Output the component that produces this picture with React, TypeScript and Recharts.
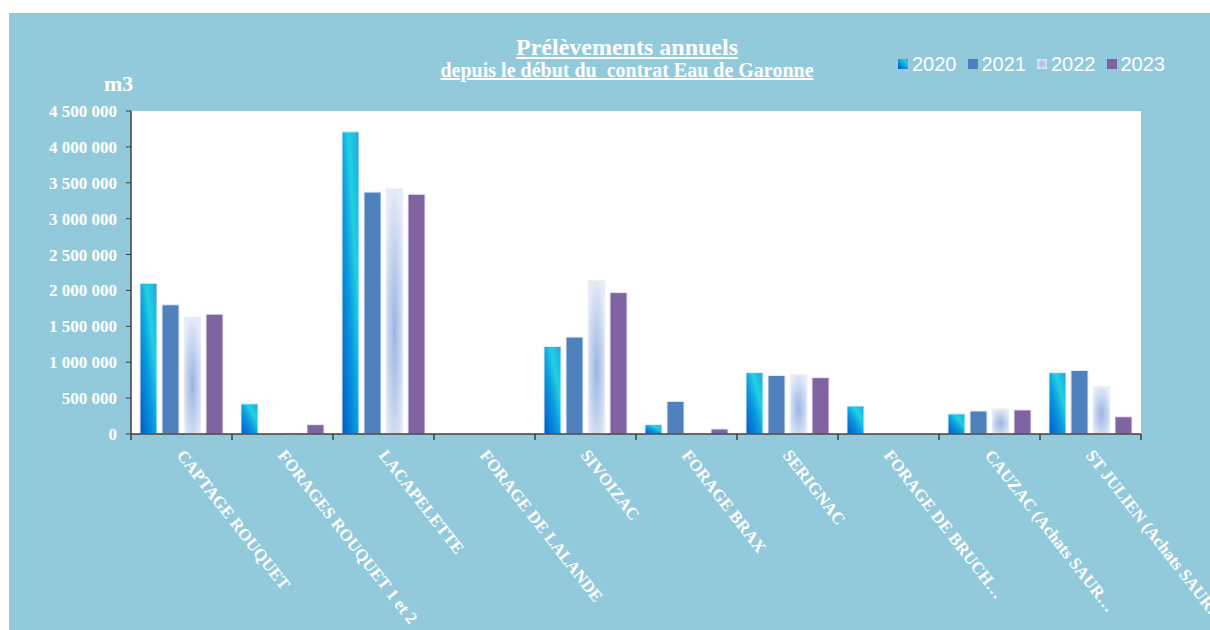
import { BarChart, Bar, XAxis, YAxis, CartesianGrid, Legend } from 'recharts'

const categories = [
  'CAPTAGE ROUQUET',
  'FORAGES ROUQUET 1 et 2',
  'LACAPELETTE',
  'FORAGE DE LALANDE',
  'SIVOIZAC',
  'FORAGE BRAX',
  'SERIGNAC',
  'FORAGE DE BRUCH…',
  'CAUZAC (Achats SAUR…',
  'ST JULIEN (Achats SAUR…',
]
const v2020 = [2100000, 420000, 4210000, 0, 1220000, 130000, 855000, 390000, 280000, 855000]
const v2021 = [1800000, 0, 3370000, 0, 1350000, 455000, 815000, 0, 320000, 885000]
const v2022 = [1630000, 15000, 3420000, 0, 2140000, 15000, 830000, 0, 350000, 660000]
const v2023 = [1670000, 130000, 3340000, 0, 1970000, 70000, 785000, 0, 335000, 240000]
const yTicks = [0, 500000, 1000000, 1500000, 2000000, 2500000, 3000000, 3500000, 4000000, 4500000]

const data = categories.map((name, i) => ({
  name,
  y2020: v2020[i],
  y2021: v2021[i],
  y2022: v2022[i],
  y2023: v2023[i],
}))

const BG = '#93cadb'
const AXIS = '#3f3f3f'
const serif = '"Liberation Serif", "Times New Roman", serif'
const sans = '"Liberation Sans", Arial, sans-serif'

const legendSwatch: Record<string, string> = {
  '2020': 'linear-gradient(45deg, #0058c8 0%, #10a8e0 55%, #22d0e0 75%, #4a90d0 100%)',
  '2021': '#4f81bd',
  '2022': 'radial-gradient(circle, #9bb6e4 0%, #e6ebf7 90%)',
  '2023': '#8064a2',
}

const fmt = (v: number) => String(v).replace(/\B(?=(\d{3})+(?!\d))/g, ' ')

// category labels + the small tick marks between groups
function XTick({ x, y, payload, index, width, visibleTicksCount }: any) {
  const half = width / visibleTicksCount / 2
  return (
    <g>
      <line x1={x - half} x2={x - half} y1={y} y2={y + 6} stroke={AXIS} strokeWidth={1.5} />
      {index === visibleTicksCount - 1 && (
        <line x1={x + half} x2={x + half} y1={y} y2={y + 6} stroke={AXIS} strokeWidth={1.5} />
      )}
      <g transform={`translate(${x + 4},${y + 14})`}>
        <text
          transform="rotate(52)"
          textAnchor="start"
          dy="0.71em"
          fill="#fff"
          fontFamily={serif}
          fontWeight="bold"
          fontSize={17}
        >
          {payload.value}
        </text>
      </g>
    </g>
  )
}

function LegendContent({ payload }: any) {
  return (
    <div style={{ display: 'flex', alignItems: 'center', fontFamily: sans, fontSize: 20, color: '#fff' }}>
      {payload.map((p: any) => (
        <div key={p.value} style={{ display: 'flex', alignItems: 'center', marginRight: 11 }}>
          <span style={{ width: 10, height: 10, background: legendSwatch[p.value], marginRight: 4 }} />
          <span style={{ lineHeight: '20px' }}>{p.value}</span>
        </div>
      ))}
    </div>
  )
}

export default function App() {
  return (
    <div style={{ position: 'absolute', left: 0, top: 0, width: 1210, height: 630, background: '#fff', overflow: 'hidden' }}>
      <div style={{ position: 'absolute', left: 9, top: 13, width: 1201, height: 617, background: BG }}>
        <div style={{ position: 'absolute', left: 318, top: 22, width: 600, textAlign: 'center', fontFamily: serif, fontWeight: 'bold', fontSize: 24, lineHeight: '24px', color: '#fff', textDecoration: 'underline' }}>
          Prélèvements annuels
        </div>
        <div style={{ position: 'absolute', left: 318, top: 48, width: 600, textAlign: 'center', fontFamily: serif, fontWeight: 'bold', fontSize: 20, lineHeight: '19px', color: '#fff', textDecoration: 'underline', whiteSpace: 'pre' }}>
          depuis le début du  contrat Eau de Garonne
        </div>
        <div style={{ position: 'absolute', left: 95, top: 60, fontFamily: serif, fontWeight: 'bold', fontSize: 22, lineHeight: '22px', color: '#fff' }}>
          m3
        </div>
        <BarChart
          width={1201}
          height={617}
          data={data}
          margin={{ top: 98, right: 69, bottom: 0, left: 0 }}
          barSize={17}
          barGap={5}
        >
          <defs>
            <linearGradient id="g2020" x1="0" y1="1" x2="1" y2="0">
              <stop offset="0%" stopColor="#0058c8" />
              <stop offset="45%" stopColor="#0a9ce0" />
              <stop offset="68%" stopColor="#22d0e0" />
              <stop offset="85%" stopColor="#1cbde0" />
              <stop offset="100%" stopColor="#4a90d0" />
            </linearGradient>
            <radialGradient id="g2022" cx="0.5" cy="0.58" r="0.6">
              <stop offset="0%" stopColor="#9ab5e3" />
              <stop offset="100%" stopColor="#e6ebf7" />
            </radialGradient>
          </defs>
          <CartesianGrid fill="#ffffff" stroke="none" horizontal={false} vertical={false} />
          <XAxis
            dataKey="name"
            height={196}
            interval={0}
            tickSize={0}
            tickMargin={0}
            tickLine={false}
            axisLine={{ stroke: AXIS, strokeWidth: 1.5 }}
            tick={<XTick />}
          />
          <YAxis
            width={122}
            domain={[0, 4500000]}
            ticks={yTicks}
            tickFormatter={fmt}
            tickSize={5}
            tickMargin={9}
            axisLine={{ stroke: AXIS, strokeWidth: 1.5 }}
            tickLine={{ stroke: AXIS }}
            tick={{ fill: '#fff', fontFamily: serif, fontWeight: 'bold', fontSize: 17 }}
          />
          <Legend
            layout="horizontal"
            verticalAlign="middle"
            align="center"
            wrapperStyle={{ top: 41, left: 889, width: 312, height: 22 }}
            content={<LegendContent />}
          />
          <Bar dataKey="y2020" name="2020" fill="url(#g2020)" stroke="#dff0fa" strokeWidth={1} isAnimationActive={false} />
          <Bar dataKey="y2021" name="2021" fill="#4f81bd" stroke="#e4ecf6" strokeWidth={1} isAnimationActive={false} />
          <Bar dataKey="y2022" name="2022" fill="url(#g2022)" stroke="#eef2fa" strokeWidth={1} isAnimationActive={false} />
          <Bar dataKey="y2023" name="2023" fill="#8064a2" stroke="#ece6f2" strokeWidth={1} isAnimationActive={false} />
        </BarChart>
      </div>
    </div>
  )
}
